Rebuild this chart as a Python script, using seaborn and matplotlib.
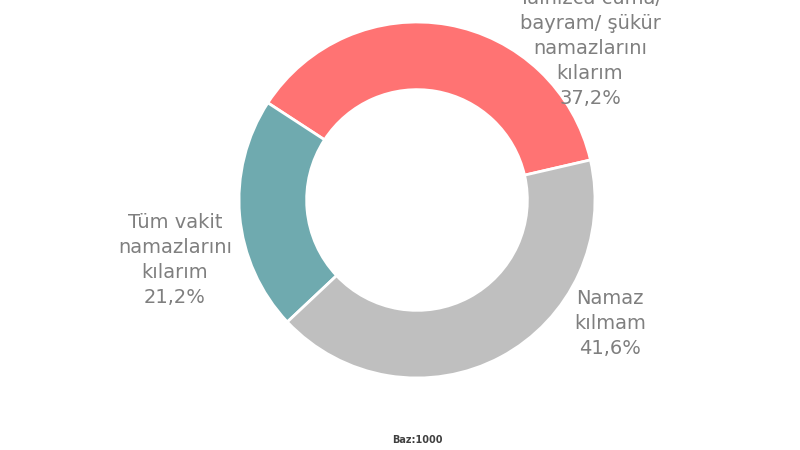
import matplotlib
matplotlib.use("Agg")
import matplotlib.pyplot as plt
import seaborn as sns

# data
labels = ["Yalnızca cuma/\nbayram/ şükür\nnamazlarını\nkılarım",
          "Tüm vakit\nnamazlarını\nkılarım",
          "Namaz\nkılmam"]
shares = [37.2, 21.2, 41.6]
colors = ["#FF7373", "#6FAAAF", "#BFBFBF"]
base_note = "Baz:1000"

sns.set_theme(style="white")
plt.rcParams["font.family"] = ["DejaVu Sans"]

fig = plt.figure(figsize=(8, 4.5), dpi=100)
ax = fig.add_axes([0, 0, 1, 1])

wedges, _ = ax.pie(shares, colors=colors, startangle=13, counterclock=True,
                   radius=1.0, wedgeprops=dict(width=0.38, edgecolor="white", linewidth=2))

# label positions (data units, radius = 1)
label_pos = [(0.972, 0.85), (-1.36, -0.335), (1.084, -0.695)]
for lab, val, (x, y) in zip(labels, shares, label_pos):
    txt = f"{lab}\n{val:.1f}%".replace(".", ",")
    ax.text(x, y, txt, ha="center", va="center", fontsize=14,
            color="#7F7F7F", linespacing=1.4)

ax.text(0, -1.346, base_note, ha="center", va="center", fontsize=7,
        fontweight="bold", color="#404040")

ax.set_xlim(-417 / 178, 383 / 178)
ax.set_ylim(-250 / 178, 200 / 178)
ax.set_aspect("equal")
ax.axis("off")

fig.savefig("out.png", dpi=100)
